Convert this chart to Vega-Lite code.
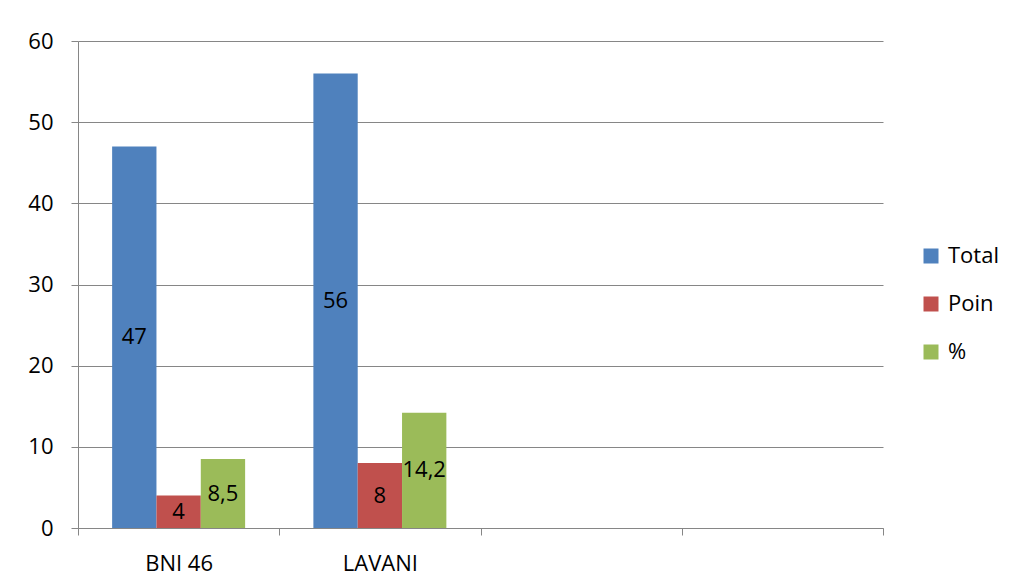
{
  "$schema": "https://vega.github.io/schema/vega-lite/v6.json",
  "width": 805,
  "height": 487,
  "autosize": {"type": "none"},
  "padding": {"left": 78, "top": 41, "right": 131, "bottom": 58},
  "background": "white",
  "data": {
    "values": [
      {"variety": "BNI 46", "series": "Total", "value": 47},
      {"variety": "BNI 46", "series": "Poin", "value": 4},
      {"variety": "BNI 46", "series": "%", "value": 8.5},
      {"variety": "LAVANI", "series": "Total", "value": 56},
      {"variety": "LAVANI", "series": "Poin", "value": 8},
      {"variety": "LAVANI", "series": "%", "value": 14.2}
    ]
  },
  "encoding": {
    "x": {
      "field": "variety",
      "type": "nominal",
      "sort": null,
      "scale": {"domain": ["BNI 46", "LAVANI", " ", "  "], "paddingInner": 0, "paddingOuter": 0},
      "axis": {
        "title": null,
        "labelAngle": 0,
        "tickBand": "extent",
        "grid": false,
        "domainColor": "#868686",
        "tickColor": "#868686",
        "tickSize": 7,
        "labelPadding": 18,
        "labelFont": "Open Sans",
        "labelFontSize": 22,
        "labelColor": "#000000"
      }
    },
    "xOffset": {
      "field": "series",
      "type": "nominal",
      "scale": {"domain": ["Total", "Poin", "%"], "paddingInner": 0, "paddingOuter": 0.77}
    }
  },
  "layer": [
    {
      "mark": {"type": "bar"},
      "encoding": {
        "y": {
          "field": "value",
          "type": "quantitative",
          "scale": {"domain": [0, 60], "nice": false},
          "axis": {
            "title": null,
            "values": [0, 10, 20, 30, 40, 50, 60],
            "grid": true,
            "gridColor": "#868686",
            "domainColor": "#868686",
            "tickColor": "#868686",
            "tickSize": 7,
            "labelPadding": 18,
            "labelFont": "Open Sans",
            "labelFontSize": 22,
            "labelColor": "#000000"
          }
        },
        "color": {
          "field": "series",
          "type": "nominal",
          "scale": {"domain": ["Total", "Poin", "%"], "range": ["#4F81BD", "#C0504D", "#9BBB59"]},
          "legend": {
            "title": null,
            "orient": "none",
            "legendX": 842,
            "legendY": 204,
            "padding": 0,
            "symbolType": "square",
            "symbolSize": 225,
            "symbolStrokeWidth": 0,
            "symbolOpacity": 1,
            "labelFont": "Open Sans",
            "labelFontSize": 22,
            "labelColor": "#000000",
            "labelOffset": 6,
            "rowPadding": 26
          }
        }
      }
    },
    {
      "mark": {"type": "text", "font": "Open Sans", "fontSize": 22, "color": "#000000", "baseline": "middle", "align": "center"},
      "encoding": {
        "y": {"field": "value", "type": "quantitative", "scale": {"domain": [0, 120], "nice": false}, "axis": null},
        "text": {"field": "value", "type": "quantitative", "format": "~g"}
      }
    }
  ],
  "resolve": {"scale": {"y": "independent"}},
  "config": {
    "view": {"stroke": null},
    "locale": {"number": {"decimal": ",", "thousands": ".", "grouping": [3], "currency": ["", ""]}}
  }
}
